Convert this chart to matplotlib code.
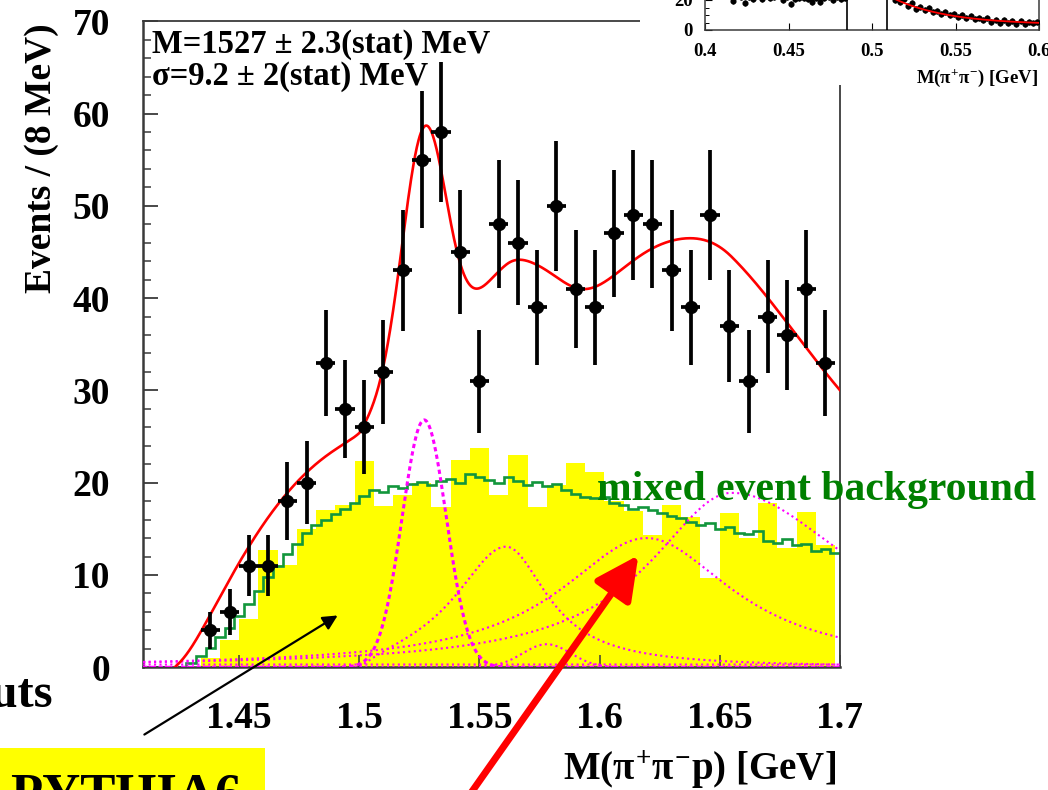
import numpy as np
import matplotlib
matplotlib.use("Agg")
import matplotlib.pyplot as plt
from matplotlib.patches import Rectangle, FancyArrowPatch

# ---------------- data ----------------
# M(pi+ pi- p) spectrum, 8 MeV bins starting at 1.41 GeV
mass_lo, mass_bin = 1.41, 0.008
first_filled_bin = 3
events = [4, 6, 11, 11, 18, 20, 33, 28, 26, 32, 43, 55, 58, 45, 31, 48, 46,
          39, 50, 41, 39, 47, 49, 48, 43, 39, 49, 37, 31, 38, 36, 41, 33]
pythia6 = [0, 0, 0, 1.0, 3.0, 5.2, 12.7, 11.1, 15.0, 17.0, 17.6, 22.3, 17.5,
           18.7, 20.0, 17.4, 22.5, 23.8, 18.7, 23.0, 17.4, 19.8, 22.1, 21.2,
           18.0, 16.9, 14.3, 17.6, 16.3, 9.7, 16.7, 14.0, 17.8, 12.9, 16.8, 13.3]

# mixed-event background, 4 MeV bins starting at 1.40 GeV
mixed_lo, mixed_bin = 1.40, 0.004
mixed_event = [0, 0, 0, 0, 0, 0, 0,
               0.5, 1.2, 2.1, 3.3, 4.3, 5.6, 6.9, 8.3, 9.8, 11.0,
               12.3, 13.4, 14.6, 15.4, 16.0, 16.6, 17.2, 17.8, 18.6, 19.2,
               19.0, 19.6, 19.4, 19.9, 20.1, 19.8, 20.2, 20.4, 20.0, 20.9,
               20.6, 20.3, 20.0, 20.6, 20.2, 19.8, 20.1, 19.6, 19.9, 19.2,
               18.8, 18.5, 18.3, 18.4, 17.8, 17.6, 17.2, 17.4, 17.0, 16.7,
               16.4, 16.2, 15.7, 15.4, 15.6, 15.0, 15.2, 14.6, 14.4, 14.8,
               13.7, 13.5, 13.9, 13.2, 13.4, 12.6, 12.8, 12.4]

# fit result: narrow gaussian
sig_mass, sig_sigma, sig_height = 1.527, 0.0092, 26.8
# broad components: peak mass, height, left / right half widths, onset
comp_mass = [1.561, 1.6195, 1.655]
comp_height = [13.1, 14.0, 18.9]
comp_wl = [0.026, 0.044, 0.042]
comp_wr = [0.021, 0.044, 0.064]
comp_onset = [1.500, None, None]
small_mass, small_sigma, small_height = 1.578, 0.010, 2.5
floor_level = 0.3
# smooth background entering the total fit
bg_onset, bg_scale, bg_rise, bg_slope = 1.4232, 29.5, 0.048, 1.95

# K0s side-band inset: M(pi+ pi-)
inset_left_x0, inset_right_x0, inset_step = 0.4015, 0.5115, 0.0025
inset_left = [23.5, 24.8, 22.9, 25.6, 23.1, 24.2, 19.5, 23.9, 21.7, 18.2,
              22.0, 21.0, 23.3, 20.6, 22.8, 21.1, 22.2, 22.5, 20.3, 21.8,
              17.3, 20.9, 21.6, 21.4, 20.4, 18.9, 21.3, 18.9, 21.2, 21.9,
              19.9, 22.1, 20.7, 21.5]
inset_right = [22.5, 19.8, 18.4, 20.5, 15.9, 17.8, 14.2, 15.6, 13.1, 14.8,
               12.0, 13.0, 10.9, 12.2, 10.1, 11.0, 8.6, 10.2, 8.0, 9.1,
               7.2, 8.3, 6.5, 7.9, 5.6, 6.8, 5.0, 6.9, 4.6, 5.8,
               4.2, 6.1, 3.9, 5.2, 4.5, 5.6]
inset_err = 2.0
inset_cuts = [0.485, 0.509]
inset_fit_const, inset_fit_amp, inset_fit_x0, inset_fit_decay = 3.5, 16.5, 0.515, 0.033

# ---------------- style ----------------
plt.rcParams['font.family'] = ['Liberation Serif', 'DejaVu Serif']
plt.rcParams['font.weight'] = 'bold'
plt.rcParams['mathtext.fontset'] = 'custom'
plt.rcParams['mathtext.rm'] = 'Liberation Serif:bold'
plt.rcParams['mathtext.it'] = 'Liberation Serif:bold'
plt.rcParams['mathtext.bf'] = 'Liberation Serif:bold'

W, H = 1048, 790
RED = '#ff0000'
MAGENTA = '#ff00ff'
GREEN = '#12963c'
YELLOW = '#ffff00'
FRAME = '#3a3a3a'


def fx(px):
    return px / W


def fy(py):
    return 1 - py / H


def asym_lorentz(x, m, h, wl, wr):
    w = np.where(x < m, wl, wr)
    return h / (1 + ((x - m) / w) ** 2)


def onset(x, x0, tau):
    return np.where(x > x0, 1 - np.exp(-np.clip(x - x0, 0, None) / tau), 0.0)


fig = plt.figure(figsize=(W / 100, H / 100), dpi=100)

x_left, x_right = 1.41, 1.70
ax_l, ax_r = 143.2, 839.8
ax_b, ax_t = 667.3, 21.2
ax = fig.add_axes([fx(ax_l), fy(ax_b), fx(ax_r - ax_l), (ax_b - ax_t) / H])
ax.set_xlim(x_left, x_right)
ax.set_ylim(0, 70)

# PYTHIA6 histogram
edges = mass_lo + mass_bin * np.arange(len(pythia6) + 1)
ax.stairs(pythia6, edges, fill=True, color=YELLOW, lw=0, zorder=1)

# mixed-event background histogram
m_edges = mixed_lo + mixed_bin * np.arange(len(mixed_event) + 1)
ax.stairs(mixed_event, m_edges, color=GREEN, lw=1.9, baseline=0, zorder=2)

# fit components
xs = np.linspace(x_left, x_right, 1200)
gauss = sig_height * np.exp(-0.5 * ((xs - sig_mass) / sig_sigma) ** 2)
comps = []
for m, h, wl, wr, on in zip(comp_mass, comp_height, comp_wl, comp_wr, comp_onset):
    c = asym_lorentz(xs, m, h, wl, wr)
    if on is not None:
        c = c * onset(xs, on, 0.01)
    comps.append(c)
small = small_height * np.exp(-0.5 * ((xs - small_mass) / small_sigma) ** 2)
floor = np.full_like(xs, floor_level)

ax.plot(xs, gauss, color=MAGENTA, lw=2.2, ls=(0, (1.4, 1.1)), zorder=3)
for c in comps + [small, floor]:
    ax.plot(xs, c, color=MAGENTA, lw=1.5, ls=(0, (1, 1.6)), zorder=3)

u = np.clip(xs - bg_onset, 0, None)
bg = bg_scale * (1 - np.exp(-(u / bg_rise) ** 1.5)) * (1 - bg_slope * u)
total = onset(xs, bg_onset, 0.006) * (bg + gauss + sum(comps) + small + floor)
sel = xs >= bg_onset
ax.plot(xs[sel], total[sel], color=RED, lw=1.9, zorder=4)

# data points
centers = mass_lo + mass_bin * (np.arange(len(events)) + first_filled_bin + 0.5)
ev = np.array(events, dtype=float)
ax.errorbar(centers, ev, yerr=np.sqrt(ev), xerr=mass_bin / 2, fmt='o', color='k',
            ms=8.5, elinewidth=2.7, capsize=0, zorder=5)

# axes cosmetics
for side in ['left', 'bottom']:
    ax.spines[side].set_linewidth(1.8)
    ax.spines[side].set_color(FRAME)
for side in ['top', 'right']:
    ax.spines[side].set_linewidth(1.3)
    ax.spines[side].set_color(FRAME)
ax.set_yticks(np.arange(0, 71, 10))
ax.set_yticks(np.arange(0, 71, 2), minor=True)
ax.set_xticks([1.45, 1.5, 1.55, 1.6, 1.65, 1.7])
ax.set_xticklabels(['1.45', '1.5', '1.55', '1.6', '1.65', '1.7'])
ax.tick_params(axis='y', which='major', direction='in', length=11, width=1.3,
               color=FRAME, labelsize=27, pad=24, right=False)
ax.tick_params(axis='y', which='minor', direction='in', length=6, width=1.1,
               color=FRAME, right=False)
ax.tick_params(axis='x', which='major', direction='in', length=9, width=1.1,
               color=FRAME, labelsize=27, pad=24, top=False)

fig.text(fx(836), fy(770), r'M($\pi^{+}\pi^{-}$p) [GeV]', ha='right', va='center',
         fontsize=28, fontweight='bold')
fig.text(fx(42), fy(158), 'Events / (8 MeV)', rotation=90, ha='center', va='center',
         fontsize=27, fontweight='bold')

fig.text(fx(152), fy(44), 'M=1527 \u00b1 2.3(stat) MeV', ha='left', va='center',
         fontsize=23.5, fontweight='bold', zorder=6)
fig.text(fx(152), fy(77), '\u03c3=9.2 \u00b1 2(stat) MeV', ha='left', va='center',
         fontsize=23.5, fontweight='bold', zorder=6)

fig.text(fx(597), fy(490), 'mixed event background', ha='left', va='center',
         fontsize=30, fontweight='bold', color='#007f00', zorder=6)

fig.text(fx(53), fy(695), 'cuts', ha='right', va='center', fontsize=35,
         fontweight='bold')

fig.add_artist(Rectangle((0, fy(790)), fx(265), 42 / H, transform=fig.transFigure,
                         facecolor=YELLOW, edgecolor='none', zorder=2))
fig.text(fx(10), fy(810), 'PYTHIA6', ha='left', va='baseline', fontsize=38,
         fontweight='bold', zorder=3)

# arrows
fig.add_artist(FancyArrowPatch((fx(142), fy(736)), (fx(340), fy(614)),
                               transform=fig.transFigure, arrowstyle='-|>',
                               mutation_scale=22, lw=1.6, color='k', zorder=7))
fig.add_artist(FancyArrowPatch((fx(466), fy(800)), (fx(640), fy(553)),
                               transform=fig.transFigure,
                               arrowstyle='-|>,head_length=1.2,head_width=0.6',
                               mutation_scale=22, lw=5, color=RED, zorder=8))

# K0s side-band inset (upper right)
fig.add_artist(Rectangle((fx(640), fy(85)), fx(W - 640), 85 / H,
                         transform=fig.transFigure, facecolor='white',
                         edgecolor='none', zorder=1))
ins = fig.add_axes([fx(705), fy(30), fx(1039 - 705), 70 / H], zorder=2)
ins.set_xlim(0.4, 0.6)
ins.set_ylim(0, 70 / 1.5)
lx = inset_left_x0 + inset_step * np.arange(len(inset_left))
rx = inset_right_x0 + inset_step * np.arange(len(inset_right))
ins.errorbar(np.concatenate([lx, rx]), inset_left + inset_right, yerr=inset_err,
             fmt='o', color='k', ms=3.4, elinewidth=1.0, capsize=0, zorder=4)
fx_in = np.linspace(0.511, 0.6, 200)
ins.plot(fx_in, inset_fit_const + inset_fit_amp * np.exp(-(fx_in - inset_fit_x0) / inset_fit_decay),
         color=RED, lw=1.3, zorder=5)
for c in inset_cuts:
    ins.axvline(c, color='k', lw=1.2, zorder=3)
ins.set_xticks([0.4, 0.45, 0.5, 0.55, 0.6])
ins.set_xticklabels(['0.4', '0.45', '0.5', '0.55', '0.6'])
ins.set_yticks([0, 20])
ins.set_yticks(np.arange(0, 46, 5), minor=True)
ins.tick_params(axis='both', which='major', direction='in', length=5, width=0.8,
                labelsize=13.5, pad=9)
ins.tick_params(axis='y', which='minor', direction='in', length=3, width=0.7)
for s in ins.spines.values():
    s.set_linewidth(1.1)
    s.set_color(FRAME)
fig.text(fx(1038), fy(78), r'M($\pi^{+}\pi^{-}$) [GeV]', ha='right', va='center',
         fontsize=13.5, fontweight='bold')

fig.savefig('out.png', dpi=100, facecolor='white')
